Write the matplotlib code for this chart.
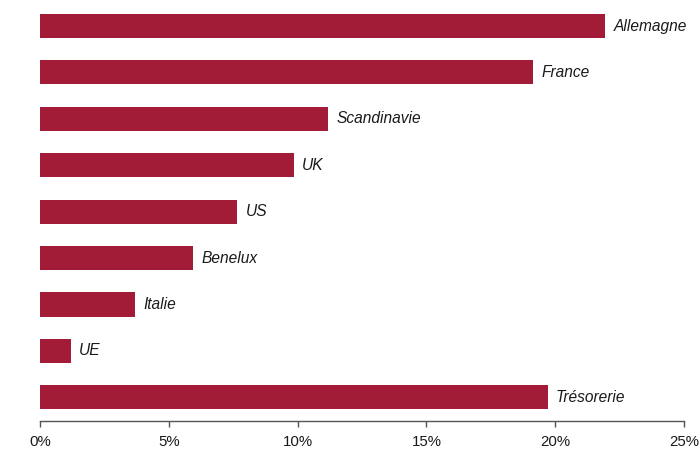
import matplotlib
matplotlib.use("Agg")
import matplotlib.pyplot as plt
from matplotlib.ticker import FuncFormatter

# répartition géographique (en %)
categories = ["Allemagne", "France", "Scandinavie", "UK", "US",
              "Benelux", "Italie", "UE", "Trésorerie"]
values = [21.94, 19.13, 11.18, 9.86, 7.65, 5.94, 3.69, 1.20, 19.71]
xticks = [0, 5, 10, 15, 20, 25]

BAR_COLOR = "#A21C38"
TEXT_COLOR = "#1a1a1a"

plt.rcParams["font.family"] = ["Liberation Sans", "DejaVu Sans"]

fig = plt.figure(figsize=(6.99, 4.51), dpi=100)
ax = fig.add_axes([40 / 699, 1 - 421 / 451, 644 / 699, (421 - 2.8) / 451])

pos = list(range(len(categories)))
ax.barh(pos, values, height=0.52, color=BAR_COLOR, edgecolor="none")

for y, v, name in zip(pos, values, categories):
    ax.annotate(name, (v, y), xytext=(6, 0), textcoords="offset points",
                va="center", ha="left", fontsize=11.2, style="italic",
                color=TEXT_COLOR)

ax.set_ylim(8.51, -0.5)
ax.set_xlim(0, 25)
ax.set_xticks(xticks)
ax.xaxis.set_major_formatter(FuncFormatter(lambda x, _: f"{x:.0f}%"))
ax.set_yticks([])
for side in ("top", "right", "left"):
    ax.spines[side].set_visible(False)
ax.spines["bottom"].set_color("#555555")
ax.spines["bottom"].set_linewidth(1.0)
ax.tick_params(axis="x", length=4, width=1.0, color="#555555",
               labelsize=10.8, labelcolor=TEXT_COLOR, pad=6)

fig.savefig("out.png", dpi=100)
